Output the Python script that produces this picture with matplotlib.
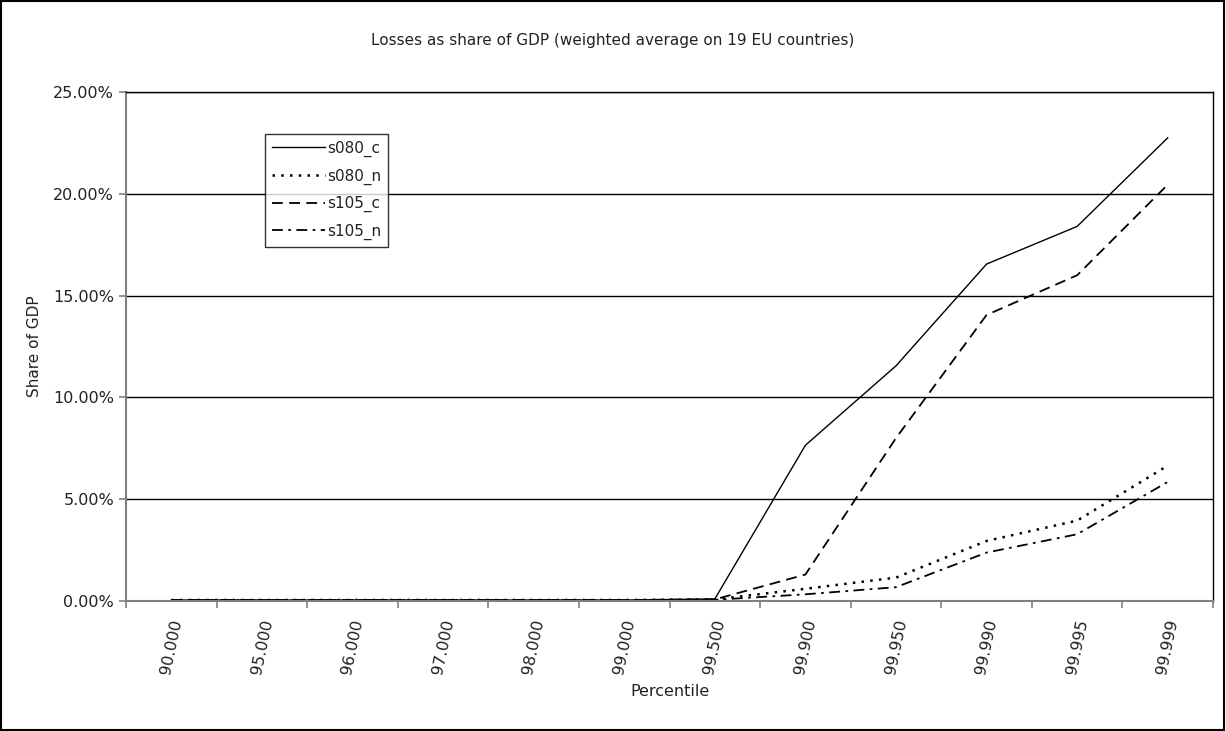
import matplotlib.pyplot as plt
from matplotlib.patches import Rectangle
from matplotlib.ticker import FuncFormatter, FixedLocator

percentiles = ['90.000', '95.000', '96.000', '97.000', '98.000', '99.000',
               '99.500', '99.900', '99.950', '99.990', '99.995', '99.999']

s080_c = [0.05, 0.05, 0.05, 0.05, 0.05, 0.05, 0.1, 7.65, 11.55, 16.55, 18.4, 22.75]
s080_n = [0.05, 0.05, 0.05, 0.05, 0.05, 0.05, 0.08, 0.6, 1.15, 2.95, 3.95, 6.65]
s105_c = [0.05, 0.05, 0.05, 0.05, 0.05, 0.05, 0.08, 1.3, 8.0, 14.05, 16.0, 20.45]
s105_n = [0.05, 0.05, 0.05, 0.05, 0.05, 0.05, 0.06, 0.33, 0.68, 2.38, 3.28, 5.85]

names = ['s080_c', 's080_n', 's105_c', 's105_n']

txt = '#222222'
plt.rcParams['text.color'] = txt
plt.rcParams['xtick.labelcolor'] = txt
plt.rcParams['ytick.labelcolor'] = txt
plt.rcParams['axes.labelcolor'] = txt

fig = plt.figure(figsize=(12.26, 7.31), dpi=100)
fig.patches.append(Rectangle((0.001, 0.001), 0.997, 0.997, transform=fig.transFigure,
                             fill=False, edgecolor='black', linewidth=1.5))
ax = fig.add_axes([0.1028, 0.1778, 0.8866, 0.6963])

x = list(range(len(percentiles)))
ax.plot(x, s080_c, color='black', linestyle='-', linewidth=1.0, label=names[0])
ax.plot(x, s080_n, color='black', linestyle=(0, (1, 2.5)), linewidth=1.8, label=names[1])
ax.plot(x, s105_c, color='black', linestyle=(0, (6, 3.5)), linewidth=1.3, label=names[2])
ax.plot(x, s105_n, color='black', linestyle=(0, (6, 3, 1.5, 3)), linewidth=1.3, label=names[3])

ax.set_xlim(-0.5, len(percentiles) - 0.5)
ax.set_ylim(0, 25)
ax.set_yticks([0, 5, 10, 15, 20, 25])
ax.yaxis.set_major_formatter(FuncFormatter(lambda v, p: '%.2f%%' % v))
ax.grid(axis='y', color='black', linewidth=1.0)
ax.set_axisbelow(True)

ax.set_xticks(x)
ax.set_xticklabels(percentiles, rotation=78, ha='center', va='top')
ax.xaxis.set_minor_locator(FixedLocator([i - 0.5 for i in range(len(percentiles) + 1)]))
ax.tick_params(axis='x', which='major', length=0, pad=12, labelsize=11.5)
ax.tick_params(axis='x', which='minor', length=5, color='#808080', width=1.2)
ax.tick_params(axis='y', length=5, color='#808080', width=1.2, labelsize=11.5)

for side in ['left', 'bottom']:
    ax.spines[side].set_color('#808080')
    ax.spines[side].set_linewidth(1.5)
for side in ['top', 'right']:
    ax.spines[side].set_color('black')
    ax.spines[side].set_linewidth(1.0)

ax.set_xlabel('Percentile', fontsize=11.5, labelpad=6)
ax.set_ylabel('Share of GDP', fontsize=11, labelpad=8)
fig.text(0.5, 0.945, 'Losses as share of GDP (weighted average on 19 EU countries)',
         ha='center', va='center', fontsize=11)

leg = ax.legend(loc='upper left', bbox_to_anchor=(0.216, 0.817), bbox_transform=fig.transFigure,
                fontsize=11, frameon=True, fancybox=False, handlelength=3.5,
                handletextpad=0.15, borderpad=0.45, labelspacing=0.75, borderaxespad=0)
leg.get_frame().set_edgecolor('black')
leg.get_frame().set_linewidth(1.0)

fig.savefig('out.png', dpi=100)
